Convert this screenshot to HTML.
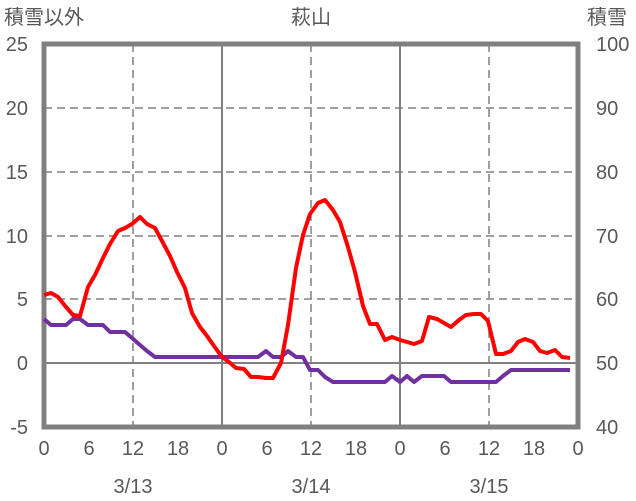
<!DOCTYPE html>
<html><head><meta charset="utf-8"><style>body{margin:0;background:#fff}svg{display:block}text{font-family:"Liberation Sans","Noto Sans CJK JP",sans-serif;fill:#595959;font-size:20px}</style></head><body>
<svg width="636" height="501" viewBox="0 0 636 501">
<g stroke="#808080" stroke-width="1.5" stroke-dasharray="8,5">
<line x1="44" y1="108" x2="578" y2="108"/><line x1="44" y1="172" x2="578" y2="172"/><line x1="44" y1="236" x2="578" y2="236"/><line x1="44" y1="299" x2="578" y2="299"/>
<line x1="133" y1="44" x2="133" y2="427"/><line x1="311" y1="44" x2="311" y2="427"/><line x1="489" y1="44" x2="489" y2="427"/>
</g>
<g stroke="#808080" stroke-width="2">
<line x1="222" y1="44" x2="222" y2="427"/><line x1="400" y1="44" x2="400" y2="427"/><line x1="44" y1="363" x2="578" y2="363"/>
</g>
<rect x="44" y="44" width="534" height="383" fill="none" stroke="#808080" stroke-width="5"/>
<polyline fill="none" stroke="#7030a0" stroke-width="4" stroke-linejoin="round" points="44,319 51,325 58,325 66,325 73,319 80,319 88,325 103,325 110,332 125,332 132,338 140,345 147,351 155,357 258,357 266,351 273,357 281,357 288,351 296,357 303,357 310,370 318,370 325,377 333,382 385,382 392,376 400,382 407,376 414,382 422,376 444,376 451,382 496,382 503,376 511,370 570,370"/>
<polyline fill="none" stroke="#ff0000" stroke-width="4" stroke-linejoin="round" points="44,295 51,293 58,297 66,307 73,315 80,316 88,287 95,275 103,258 110,244 118,231 125,228 132,224 140,217 147,224 155,228 162,241 170,256 177,272 185,288 192,313 200,327 207,336 214,346 222,357 229,362 236,368 244,369 251,377 258,377 266,378 273,378 281,363 288,325 296,268 303,235 310,214 318,203 325,200 333,210 340,222 348,247 355,272 363,306 370,324 377,324 385,340 392,337 400,340 407,342 414,344 422,341 429,317 437,319 444,323 451,327 459,320 466,315 474,314 481,314 488,321 496,354 503,354 511,351 518,342 525,339 533,342 540,351 547,353 555,350 562,357 570,358"/>
<text x="4" y="24">積雪以外</text><text x="311" y="24" text-anchor="middle">萩山</text><text x="587" y="24">積雪</text>
<g text-anchor="end"><text x="28" y="51">25</text><text x="28" y="115">20</text><text x="28" y="179">15</text><text x="28" y="243">10</text><text x="28" y="306">5</text><text x="28" y="370">0</text><text x="28" y="434">-5</text></g>
<g text-anchor="start"><text x="596" y="51">100</text><text x="596" y="115">90</text><text x="596" y="179">80</text><text x="596" y="243">70</text><text x="596" y="306">60</text><text x="596" y="370">50</text><text x="596" y="434">40</text></g>
<g text-anchor="middle"><text x="44" y="455">0</text><text x="89" y="455">6</text><text x="133" y="455">12</text><text x="178" y="455">18</text><text x="222" y="455">0</text><text x="267" y="455">6</text><text x="311" y="455">12</text><text x="356" y="455">18</text><text x="400" y="455">0</text><text x="445" y="455">6</text><text x="489" y="455">12</text><text x="534" y="455">18</text><text x="578" y="455">0</text>
<text x="133" y="493">3/13</text><text x="311" y="493">3/14</text><text x="489" y="493">3/15</text></g>
</svg></body></html>
